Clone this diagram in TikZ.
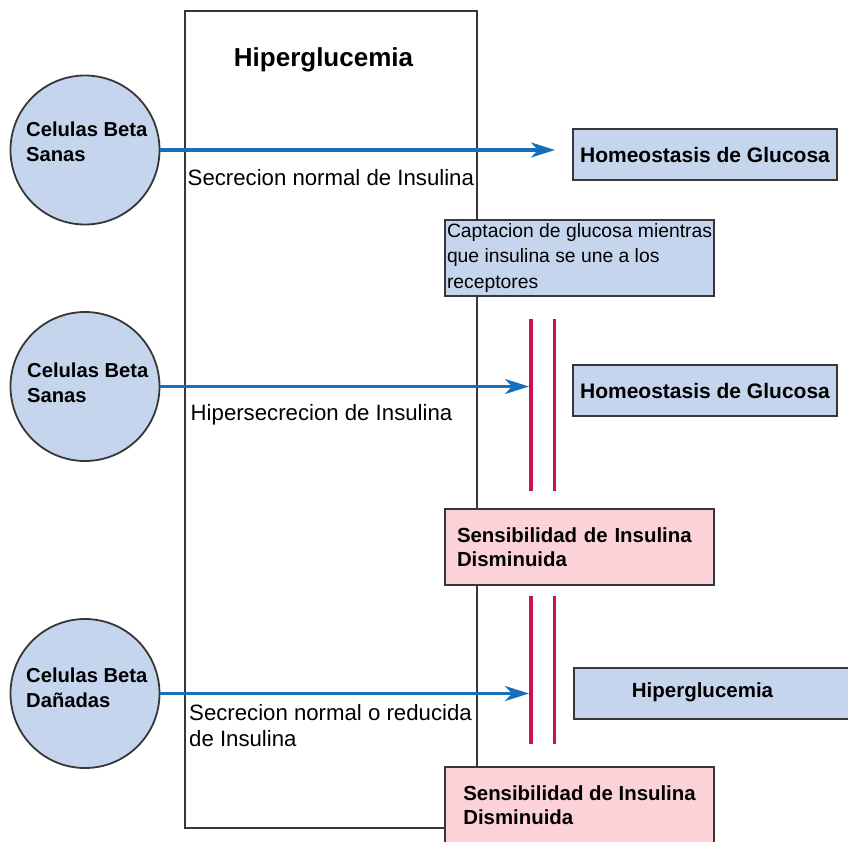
\documentclass[tikz,border=0pt]{standalone}
\usepackage{fontspec}
\setmainfont{Liberation Sans}
\usetikzlibrary{arrows.meta}
\definecolor{cellblue}{RGB}{198,213,238}
\definecolor{cellpink}{RGB}{250,210,216}
\definecolor{flowblue}{RGB}{22,111,186}
\definecolor{barred}{RGB}{204,18,72}
\definecolor{edgegray}{RGB}{55,55,55}
\newcommand{\myfs}[2]{\fontsize{#1pt}{#2pt}\selectfont}
\begin{document}
\begin{tikzpicture}[x=1pt,y=-1pt,
  cell/.style={circle,draw=edgegray,line width=1.8pt,fill=cellblue,minimum size=149pt,inner sep=0},
  celltext/.style={anchor=west,inner sep=0,align=left,font=\myfs{20.2}{25}\bfseries},
  flow/.style={draw=flowblue,line width=3.2pt,-{Stealth[length=24pt,width=15pt,inset=7pt]}},
  flowlabel/.style={inner sep=0,align=left,font=\myfs{22.2}{26}},
  bluebox/.style={draw=edgegray,line width=2pt,fill=cellblue,inner sep=0},
  pinkbox/.style={draw=edgegray,line width=2pt,fill=cellpink,inner sep=0,minimum width=269pt,minimum height=76pt,align=left,font=\myfs{20.4}{24.5}\bfseries},
  bar/.style={draw=barred,line width=3.4pt},
]
\useasboundingbox (0,0) rectangle (848,841);
% frame
\node[draw=edgegray,line width=2pt,minimum width=292pt,minimum height=817pt,anchor=north west,inner sep=0] (frame) at (184,10) {};
\node[anchor=base,inner sep=0,font=\myfs{26}{30}\bfseries] (title) at (323.5,66) {Hiperglucemia};
% labels
\node[flowlabel,anchor=base west] (l1) at (187.5,185.7) {Secrecion normal de Insulina};
\node[flowlabel,anchor=base west] (l2) at (190.5,420.7) {Hipersecrecion de Insulina};
\node[flowlabel,anchor=west] (l3) at (189,725.7) {Secrecion normal o reducida\\de Insulina};
% cells
\node[cell] (c1) at (85,150) {};
\node[cell] (c2) at (85,386.5) {};
\node[cell] (c3) at (85,693.5) {};
\node[celltext] (c1t) at (26,142.2) {Celulas Beta\\Sanas};
\node[celltext] (c2t) at (27,383) {Celulas Beta\\Sanas};
\node[celltext] (c3t) at (26,687.3) {Celulas Beta\\Dañadas};
% boxes
\node[bluebox,minimum width=264pt,minimum height=51pt,font=\myfs{21}{25}\bfseries,text height=15pt,text depth=0pt] (h1) at (705,154.5) {Homeostasis de Glucosa};
\node[bluebox,minimum width=264pt,minimum height=51pt,font=\myfs{21}{25}\bfseries,text height=15pt,text depth=0pt] (h2) at (705,390.5) {Homeostasis de Glucosa};
\node[bluebox,minimum width=300pt,minimum height=51pt,anchor=west] (hbox) at (573,693.2) {};
\node[anchor=base,inner sep=0,font=\myfs{20.5}{25}\bfseries] (htext) at (702.5,697.7) {Hiperglucemia};
\node[bluebox,minimum width=269pt,minimum height=76pt,anchor=north west,align=left,font=\myfs{19.3}{25.2}] (capt) at (444,219) {Captacion de glucosa mientras\\que insulina se une a los\\receptores};
\node[pinkbox,anchor=north west,text width=245pt,inner xsep=12pt] (p1) at (444,508) {Sensibilidad de Insulina\\Disminuida};
\node[pinkbox,anchor=north west] (p2) at (444,766) {Sensibilidad de Insulina\\Disminuida};
% bars
\coordinate (b1t) at (531,319); \coordinate (b1b) at (531,491);
\coordinate (b2t) at (554.5,319); \coordinate (b2b) at (554.5,491);
\coordinate (b3t) at (531,596); \coordinate (b3b) at (531,744);
\coordinate (b4t) at (554.5,596); \coordinate (b4b) at (554.5,744);
\draw[bar] (b1t) -- (b1b);
\draw[bar] (b2t) -- (b2b);
\draw[bar] (b3t) -- (b3b);
\draw[bar] (b4t) -- (b4b);
% arrows
\coordinate (a1end) at (555,150);
\draw[flow] (c1.east) -- (a1end);
\draw[flow,shorten >=2pt] (c2.east) -- (c2.east -| b1t);
\draw[flow,shorten >=2pt] (c3.east) -- (c3.east -| b3t);
\end{tikzpicture}
\end{document}
